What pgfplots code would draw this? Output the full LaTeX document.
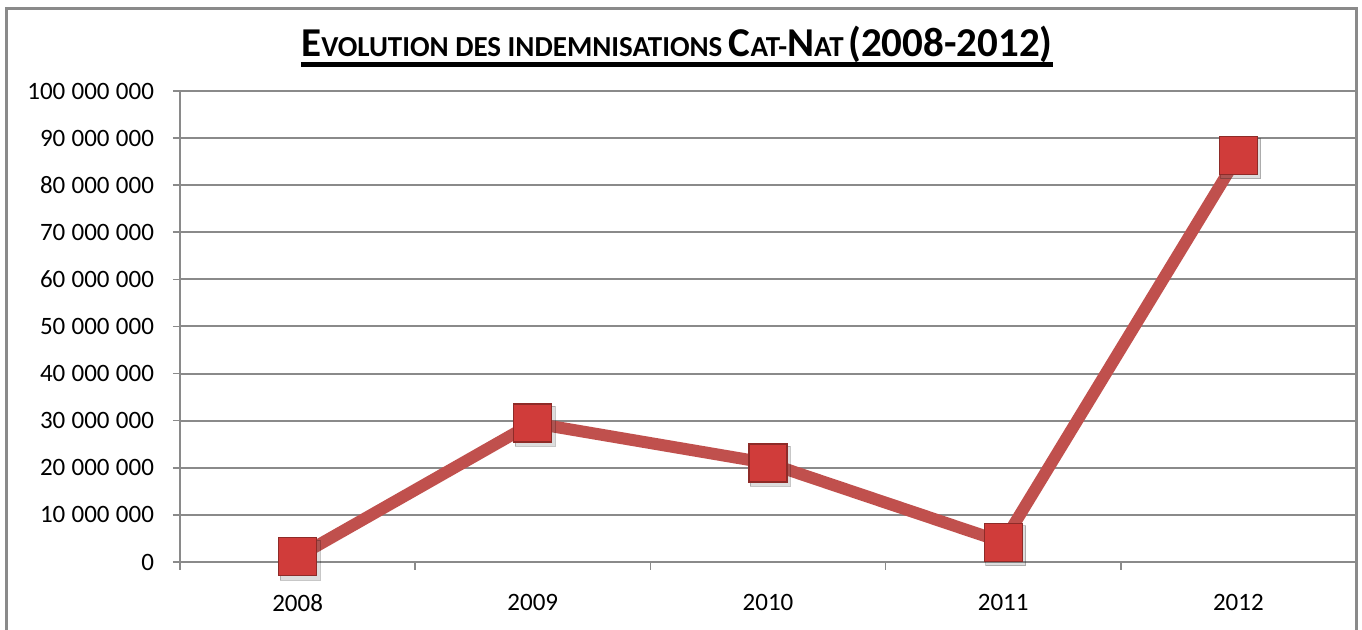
\documentclass[border=0pt]{standalone}
\usepackage{pgfplots}
\pgfplotsset{compat=1.18}
\usepackage{fontspec}
\setmainfont{Carlito}
\definecolor{linered}{HTML}{C0504D}
\definecolor{markfill}{HTML}{D03C3A}
\definecolor{markdraw}{HTML}{8E2B28}
\definecolor{gridgray}{HTML}{8A8A8A}
\newcommand{\BC}[1]{{\fontsize{20.5}{24}\selectfont #1}}
\newcommand{\SC}[1]{{\fontsize{14.5}{17}\selectfont #1}}
\newcommand{\gs}{\hspace{0.25em}}
\begin{document}
\begin{tikzpicture}
\useasboundingbox (-90pt,-34pt) rectangle (591pt,281pt);
\begin{axis}[
  scale only axis,
  width=588pt, height=235.5pt,
  xmin=-0.5, xmax=4.5,
  ymin=0, ymax=100000000,
  scaled y ticks=false,
  axis x line=bottom, axis y line=left,
  axis line style={gridgray, line width=1pt, -},
  xtick={0,1,2,3,4},
  xticklabels={2008,2009,2010,2011,2012},
  minor xtick={-0.5,0.5,1.5,2.5,3.5,4.5},
  major x tick style={draw=none},
  minor x tick style={gridgray, line width=0.8pt},
  minor tick length=4pt,
  ytick={0,10000000,20000000,30000000,40000000,50000000,60000000,70000000,80000000,90000000,100000000},
  yticklabels={0,10\gs000\gs000,20\gs000\gs000,30\gs000\gs000,40\gs000\gs000,50\gs000\gs000,60\gs000\gs000,70\gs000\gs000,80\gs000\gs000,90\gs000\gs000,100\gs000\gs000},
  major y tick style={gridgray, line width=0.8pt},
  major tick length=3.5pt,
  tick align=outside,
  ymajorgrids,
  grid style={gridgray, line width=1pt},
  tick label style={font=\fontsize{12.5}{14}\selectfont, text=black},
  yticklabel style={xshift=-6pt},
  xticklabel style={yshift=-9pt},
  clip=false,
]
\addplot[only marks, mark=square*, mark size=10pt, opacity=0.22,
  mark options={fill=black!60, draw=none}, forget plot]
  coordinates {(0.01,400000) (1.01,28800000) (2.01,20300000) (3.01,3500000) (4.01,85600000)};
\addplot[linered, line width=6pt, mark=square*, mark size=9.5pt,
  mark options={fill=markfill, draw=markdraw, line width=0.6pt}]
  coordinates {(0,1100000) (1,29500000) (2,21000000) (3,4200000) (4,86300000)};
\end{axis}
\draw[gridgray, line width=1.5pt] (-86.5pt,-45pt) -- (-86.5pt,276.5pt) -- (588pt,276.5pt) -- (588pt,-45pt);
\node[anchor=base, inner sep=0pt, font=\bfseries] (t) at (248.5pt,252.5pt)
  {\BC{E}\SC{VOLUTION DES INDEMNISATIONS }\BC{C}\SC{AT-}\BC{N}\SC{AT} \BC{(2008-2012)}};
\draw[black, line width=2.2pt] ([yshift=-3.8pt]t.base west) -- ([yshift=-3.8pt]t.base east);
\end{tikzpicture}
\end{document}
